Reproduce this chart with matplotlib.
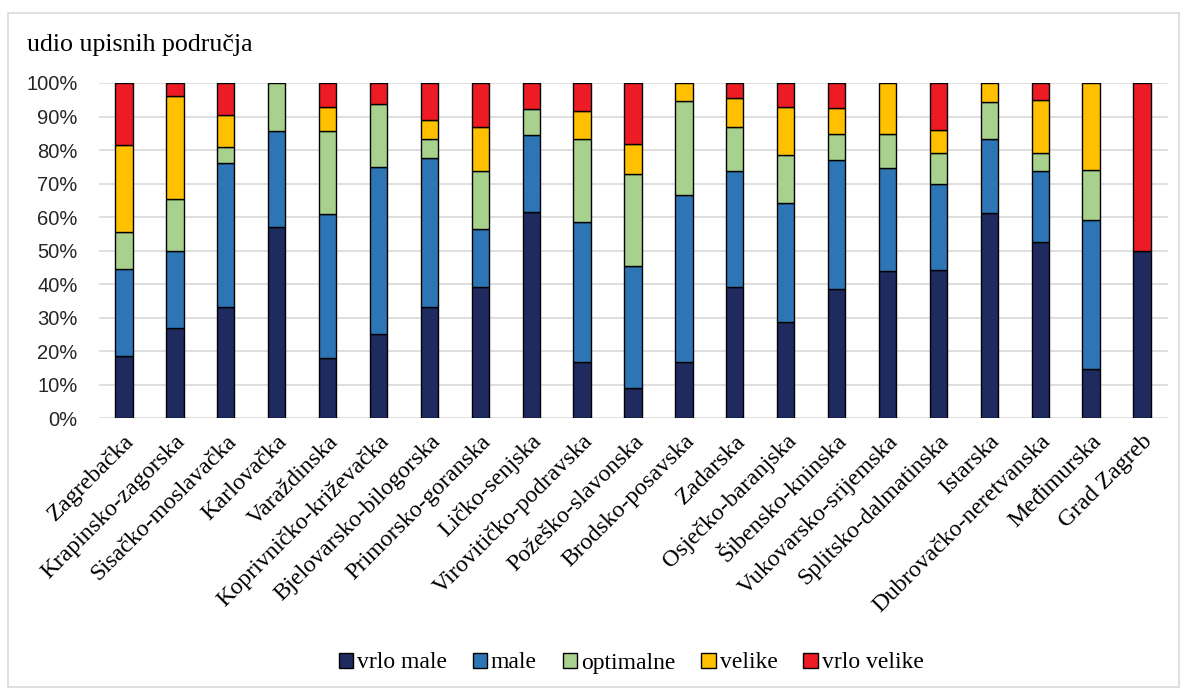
import matplotlib
matplotlib.use("Agg")
import matplotlib.pyplot as plt
from matplotlib.patches import Rectangle
import numpy as np

categories = ["Zagrebačka", "Krapinsko-zagorska", "Sisačko-moslavačka", "Karlovačka",
              "Varaždinska", "Koprivničko-križevačka", "Bjelovarsko-bilogorska",
              "Primorsko-goranska", "Ličko-senjska", "Virovitičko-podravska",
              "Požeško-slavonska", "Brodsko-posavska", "Zadarska", "Osječko-baranjska",
              "Šibensko-kninska", "Vukovarsko-srijemska", "Splitsko-dalmatinska",
              "Istarska", "Dubrovačko-neretvanska", "Međimurska", "Grad Zagreb"]

vrlo_male = [18.5, 26.9, 33.3, 57.1, 17.9, 25.0, 33.3, 39.1, 61.5, 16.7, 9.1,
             16.7, 39.1, 28.6, 38.5, 43.8, 44.2, 61.1, 52.6, 14.8, 50.0]
male = [25.9, 23.1, 42.9, 28.6, 42.9, 50.0, 44.4, 17.4, 23.1, 41.7, 36.4,
        50.0, 34.8, 35.7, 38.5, 30.9, 25.6, 22.2, 21.1, 44.4, 0.0]
optimalne = [11.1, 15.4, 4.8, 14.3, 25.0, 18.8, 5.6, 17.4, 7.7, 25.0, 27.3,
             27.8, 13.0, 14.3, 7.7, 10.0, 9.3, 11.1, 5.3, 14.8, 0.0]
velike = [25.9, 30.8, 9.5, 0.0, 7.1, 0.0, 5.6, 13.0, 0.0, 8.3, 9.1,
          5.6, 8.7, 14.3, 7.7, 15.3, 7.0, 5.6, 15.8, 25.9, 0.0]
vrlo_velike = [18.5, 3.8, 9.5, 0.0, 7.1, 6.2, 11.1, 13.0, 7.7, 8.3, 18.2,
               0.0, 4.3, 7.1, 7.7, 0.0, 14.0, 0.0, 5.3, 0.0, 50.0]

series_names = ["vrlo male", "male", "optimalne", "velike", "vrlo velike"]
series = [vrlo_male, male, optimalne, velike, vrlo_velike]
colors = ["#1F2A5E", "#2E75B6", "#A9D18E", "#FFC000", "#ED1C24"]
y_ticks = list(range(0, 101, 10))
y_labels = [f"{t}%" for t in y_ticks]
title = "udio upisnih područja"

W, H = 1182, 696
fig = plt.figure(figsize=(W / 100, H / 100), dpi=100)
fig.patch.set_facecolor("white")

# outer chart border
fig.add_artist(Rectangle((8 / W, 1 - 687 / H), (1179 - 8) / W, (687 - 13) / H,
                         transform=fig.transFigure, fill=False,
                         edgecolor="#D9D9D9", linewidth=1.2))

ax = fig.add_axes([98.5 / W, 1 - 418.3 / H, (1167.5 - 98.5) / W, (418.3 - 83) / H])

x = np.arange(len(categories))
bottom = np.zeros(len(categories))
handles = []
for name, vals, col in zip(series_names, series, colors):
    vals = np.array(vals, dtype=float)
    lws = [1.0 if v > 0 else 0.0 for v in vals]
    b = ax.bar(x, vals, bottom=bottom, width=0.34, color=col,
               edgecolor="black", linewidth=lws, label=name, zorder=3)
    handles.append(b)
    bottom += vals

ax.set_xlim(-0.5, len(categories) - 0.5)
ax.set_ylim(0, 100)
ax.set_yticks(y_ticks)
ax.set_yticklabels(y_labels, fontsize=14.5, family="Liberation Sans", color="#262626")
ax.yaxis.grid(True, color="#D9D9D9", linewidth=1.2, zorder=0)
ax.set_axisbelow(True)
for s in ax.spines.values():
    s.set_visible(False)
ax.tick_params(axis="both", length=0)
ax.tick_params(axis="y", pad=15)
ax.set_xticks(x)
ax.set_xticklabels(categories, rotation=45, ha="right", va="top",
                   rotation_mode="anchor", fontsize=17.3, family="Liberation Serif")
ax.tick_params(axis="x", pad=9)

fig.text(27 / W, 1 - 45 / H, title, fontsize=18.6, family="Liberation Serif",
         ha="left", va="center")

leg = fig.legend(handles=handles, labels=series_names, loc="center",
                 bbox_to_anchor=(631 / W, 1 - 663 / H), ncol=5, frameon=False,
                 prop={"family": "Liberation Serif", "size": 17},
                 handlelength=0.62, handleheight=0.62, handletextpad=0.15,
                 columnspacing=1.1)

fig.savefig("out.png", dpi=100, facecolor="white")
